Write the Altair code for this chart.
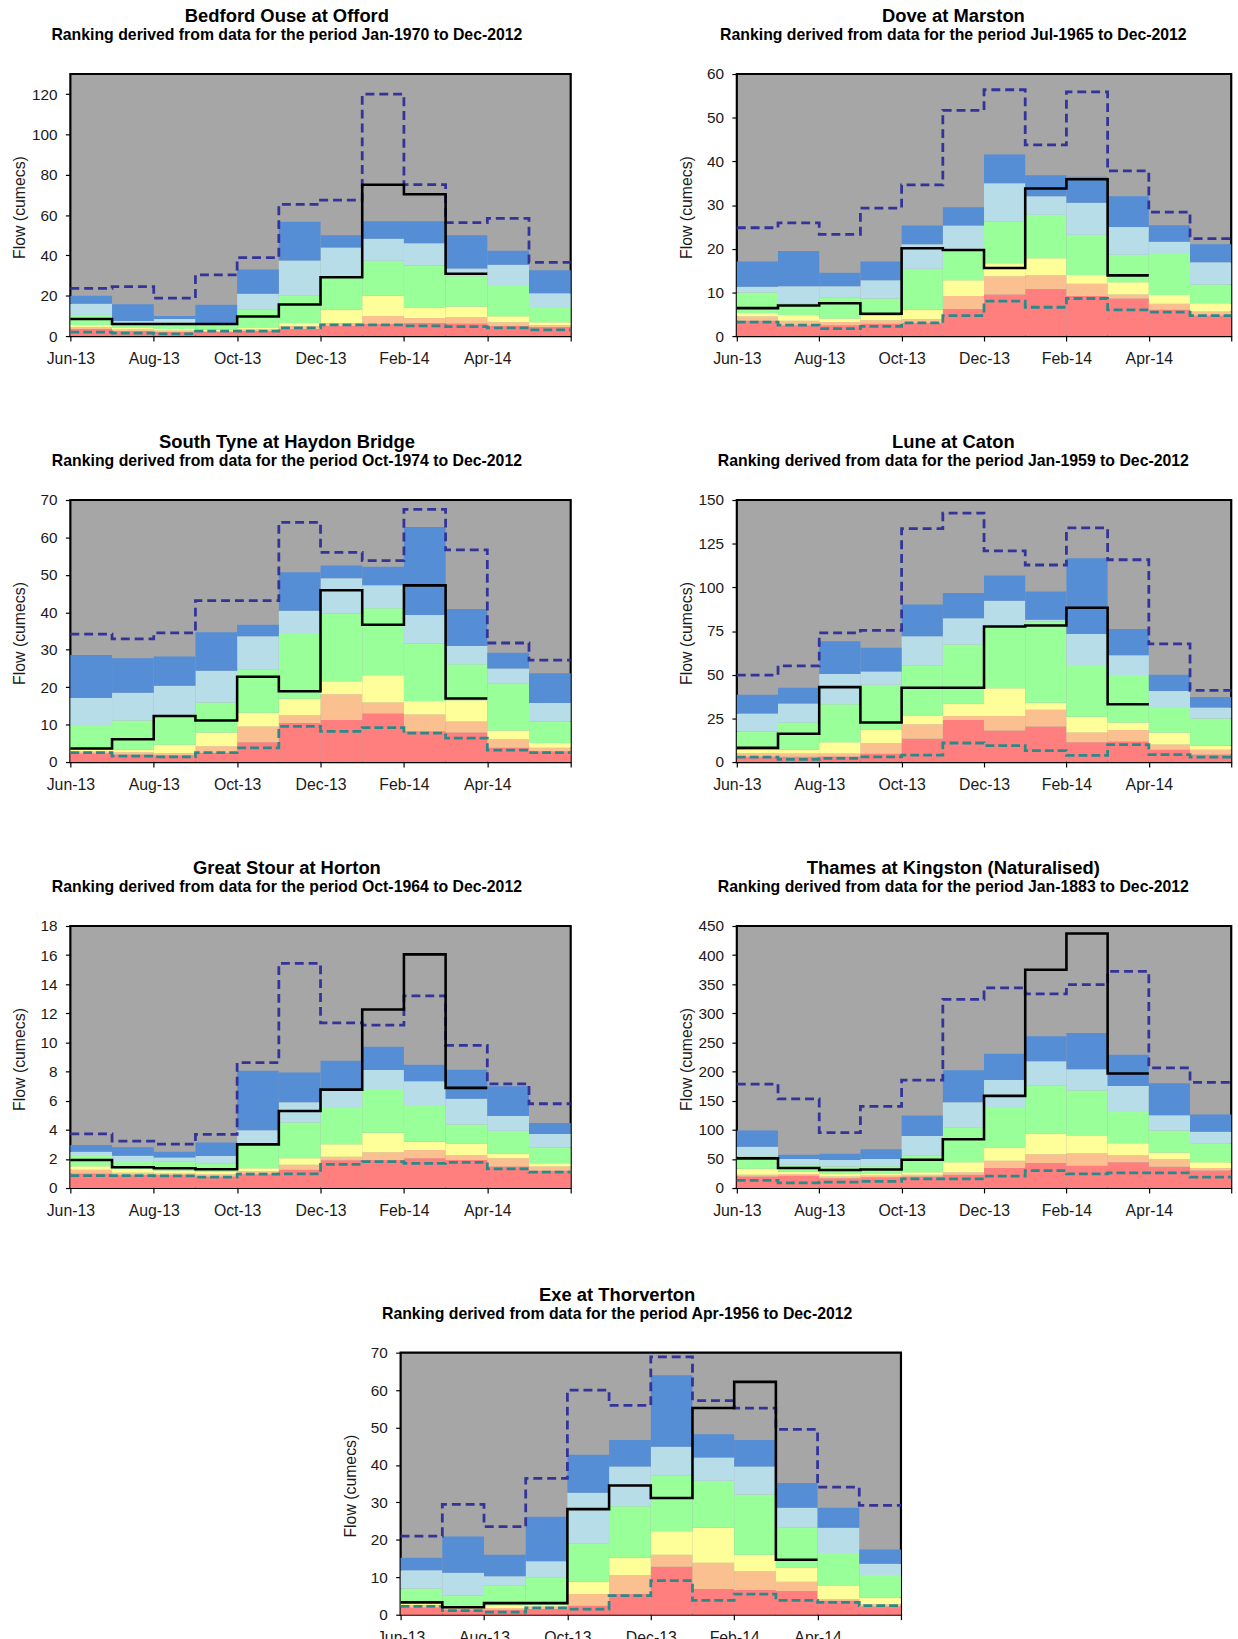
import json
import altair as alt
import pandas as pd

FONT = "Liberation Sans"
MONTHS = 12
tick_labels = ["Jun-13", "Aug-13", "Oct-13", "Dec-13", "Feb-14", "Apr-14", ""]
band_names = ["Exceptionally low", "Notably low", "Below normal", "Normal range",
              "Above normal", "Notably high"]
band_colors = ["#FF7F7F", "#FAC090", "#FFFF99", "#99FF99", "#B7DEE8", "#558ED5"]
MAX_C = "#333399"
MIN_C = "#2A8A8A"

# ---------------- Bedford Ouse at Offord ----------------
bedford_red = [3.5, 2.5, 2.0, 2.0, 2.5, 3.5, 5.0, 6.0, 6.5, 6.2, 5.0, 4.5]
bedford_peach = [4.5, 3.2, 2.8, 2.5, 3.2, 5.0, 6.5, 10.0, 9.0, 9.5, 6.8, 5.5]
bedford_yellow = [5.5, 4.0, 3.5, 3.2, 4.0, 6.5, 13.0, 20.0, 14.2, 14.7, 9.8, 6.9]
bedford_green = [10.5, 6.5, 6.5, 5.5, 13.0, 20.0, 29.0, 37.4, 35.0, 29.7, 25.3, 13.9]
bedford_lblue = [16.0, 7.5, 8.5, 6.5, 21.0, 37.5, 44.0, 48.3, 46.0, 33.5, 35.4, 21.2]
bedford_blue = [20.0, 15.8, 10.0, 15.5, 33.0, 56.7, 50.0, 57.0, 57.0, 50.0, 42.3, 32.7]
bedford_max = [23.7, 24.5, 18.8, 30.4, 38.9, 65.3, 67.4, 120.0, 75.1, 56.3, 58.4, 36.6]
bedford_min = [2.0, 1.5, 1.1, 2.4, 2.4, 4.1, 5.5, 5.5, 5.0, 4.7, 4.1, 3.1]
bedford_flow = [8.5, 6.0, 6.0, 6.0, 9.7, 15.7, 29.2, 75.1, 70.4, 30.9]

# ---------------- Dove at Marston ----------------
dove_red = [3.5, 2.5, 2.5, 2.8, 3.0, 6.2, 9.5, 10.8, 9.2, 8.6, 6.0, 4.7]
dove_peach = [4.5, 3.5, 3.2, 3.6, 3.9, 9.2, 13.7, 13.9, 12.0, 9.5, 7.4, 5.6]
dove_yellow = [5.3, 4.8, 4.0, 4.7, 6.0, 12.8, 16.7, 17.8, 14.0, 12.3, 9.4, 7.5]
dove_green = [10.0, 7.5, 8.8, 8.6, 15.4, 19.6, 26.2, 27.8, 23.2, 18.6, 18.8, 11.8]
dove_lblue = [11.3, 11.4, 11.4, 12.8, 21.0, 25.3, 35.0, 32.0, 30.5, 25.0, 21.6, 16.9]
dove_blue = [17.1, 19.5, 14.5, 17.1, 25.3, 29.5, 41.6, 36.8, 36.5, 32.0, 25.4, 21.0]
dove_max = [24.8, 25.9, 23.3, 29.3, 34.6, 51.7, 56.4, 43.8, 55.9, 37.8, 28.4, 22.3]
dove_min = [3.2, 2.5, 1.7, 2.2, 3.0, 4.7, 8.0, 6.6, 8.6, 6.0, 5.5, 4.7]
dove_flow = [6.4, 7.0, 7.5, 5.1, 20.1, 19.7, 15.6, 33.8, 35.9, 13.9]

# ---------------- South Tyne at Haydon Bridge ----------------
tyne_red = [2.3, 2.0, 1.8, 2.5, 5.3, 10.4, 11.2, 13.0, 8.2, 7.9, 3.8, 2.9]
tyne_peach = [2.8, 2.6, 2.4, 4.2, 9.5, 12.5, 18.1, 15.9, 12.7, 10.8, 6.1, 3.8]
tyne_yellow = [3.3, 3.3, 4.6, 7.9, 13.2, 16.9, 21.6, 23.2, 16.3, 16.5, 8.4, 5.1]
tyne_green = [9.6, 11.1, 12.5, 15.9, 24.8, 34.5, 39.7, 41.1, 31.7, 26.1, 20.9, 10.8]
tyne_lblue = [17.1, 18.5, 20.4, 24.4, 33.6, 40.4, 49.1, 47.2, 39.3, 31.0, 25.0, 15.8]
tyne_blue = [28.6, 27.7, 28.2, 34.7, 36.7, 50.7, 52.5, 52.2, 62.8, 40.9, 29.2, 23.7]
tyne_max = [34.2, 32.9, 34.5, 43.1, 43.1, 64.0, 56.0, 53.8, 67.5, 56.7, 31.8, 27.2]
tyne_min = [2.5, 1.6, 1.4, 2.5, 3.8, 9.5, 8.2, 9.2, 7.7, 6.4, 3.2, 2.5]
tyne_flow = [3.6, 6.1, 12.3, 11.1, 22.8, 18.9, 45.9, 36.7, 47.2, 17.0]

# ---------------- Lune at Caton ----------------
lune_red = [3.0, 3.0, 3.2, 4.7, 13.3, 24.1, 18.0, 20.3, 11.3, 11.8, 7.1, 4.3]
lune_peach = [5.0, 4.9, 4.9, 10.9, 21.6, 26.3, 26.3, 30.0, 16.9, 18.4, 10.0, 7.1]
lune_yellow = [7.0, 7.1, 11.3, 18.4, 26.3, 33.5, 42.3, 34.0, 25.9, 22.6, 16.9, 9.4]
lune_green = [17.5, 22.6, 33.1, 44.2, 55.1, 67.3, 78.5, 80.5, 55.6, 49.8, 31.0, 25.0]
lune_lblue = [27.8, 33.5, 50.4, 51.9, 72.0, 82.3, 92.3, 81.4, 73.3, 61.1, 40.6, 31.2]
lune_blue = [38.5, 42.5, 69.2, 65.4, 90.2, 96.8, 106.8, 97.7, 116.7, 76.1, 50.0, 37.2]
lune_max = [49.8, 55.1, 73.9, 75.4, 133.6, 142.5, 120.9, 112.8, 134.0, 115.8, 67.7, 41.0]
lune_min = [2.8, 1.5, 2.1, 3.0, 3.9, 10.9, 9.4, 6.6, 3.8, 10.0, 4.3, 2.8]
lune_flow = [8.1, 16.2, 42.9, 22.6, 42.5, 42.5, 77.6, 78.2, 88.3, 33.1]

# ---------------- Great Stour at Horton ----------------
stour_red = [1.0, 0.9, 0.9, 0.8, 0.95, 1.25, 1.9, 1.93, 2.04, 1.93, 1.48, 1.18]
stour_peach = [1.25, 1.05, 1.0, 0.95, 1.15, 1.6, 2.15, 2.45, 2.61, 2.27, 2.04, 1.48]
stour_yellow = [1.5, 1.3, 1.2, 1.1, 1.36, 2.04, 3.0, 3.8, 3.18, 3.06, 2.38, 1.7]
stour_green = [2.2, 1.85, 1.8, 1.7, 3.1, 4.5, 5.5, 6.8, 5.63, 4.36, 3.93, 2.79]
stour_lblue = [2.5, 2.22, 2.1, 2.2, 3.97, 5.9, 6.7, 8.1, 7.33, 6.13, 4.95, 3.72]
stour_blue = [2.95, 2.8, 2.5, 3.13, 8.05, 7.94, 8.74, 9.7, 8.47, 8.13, 6.99, 4.47]
stour_max = [3.72, 3.22, 3.02, 3.68, 8.62, 15.43, 11.35, 11.19, 13.2, 9.8, 7.15, 5.79]
stour_min = [0.86, 0.86, 0.84, 0.75, 0.95, 0.98, 1.63, 1.82, 1.7, 1.77, 1.32, 1.09]
stour_flow = [1.93, 1.43, 1.36, 1.29, 3.0, 5.29, 6.76, 12.26, 16.05, 6.88]

# ---------------- Thames at Kingston (Naturalised) ----------------
thames_red = [20, 21, 17, 18.7, 19.8, 22.6, 34.5, 43, 38.4, 44.1, 36.7, 30]
thames_peach = [23, 24, 20, 21.5, 22.6, 27.1, 46.9, 58.2, 59.9, 56.5, 49.7, 34.5]
thames_yellow = [33, 28, 24, 24.3, 27.1, 44.1, 69.5, 93.8, 89.3, 76.9, 61, 44.1]
thames_green = [54, 40, 37, 37.3, 55.4, 103.4, 137.4, 175.8, 167.3, 130.6, 98.9, 76.9]
thames_lblue = [71, 50, 48, 49.7, 89.3, 147.5, 185.4, 217.6, 204, 175.2, 124.9, 96.7]
thames_blue = [99, 57, 59, 66.7, 124.4, 202.4, 230.6, 260.6, 266.3, 229, 179.8, 126.1]
thames_max = [178.6, 153.2, 95, 140.2, 185.4, 323.9, 343.7, 333.5, 349.4, 372, 206.3, 181.5]
thames_min = [13, 9, 10.2, 11.3, 15.8, 15.8, 20.4, 30, 24.3, 26, 26, 18.7]
thames_flow = [50.9, 34.5, 31.1, 31.7, 48.6, 83.7, 158.3, 374.8, 437, 196.7]

# ---------------- Exe at Thorverton ----------------
exe_red = [1.9, 1.3, 1.3, 1.5, 2.4, 5.5, 12.8, 6.9, 6.6, 6.3, 3.7, 2.2]
exe_peach = [2.6, 1.7, 1.8, 2.2, 5.5, 10.6, 16.0, 13.9, 11.6, 8.8, 4.2, 2.8]
exe_yellow = [3.1, 2.2, 2.5, 2.6, 8.8, 15.2, 22.3, 23.2, 16.0, 12.6, 7.7, 4.6]
exe_green = [7.0, 5.1, 7.9, 9.9, 19.1, 29.0, 37.1, 35.8, 32.1, 23.3, 16.5, 10.6]
exe_lblue = [11.9, 11.2, 10.3, 14.3, 32.6, 39.6, 44.9, 42.0, 39.6, 28.6, 23.2, 13.6]
exe_blue = [15.2, 20.9, 16.0, 26.2, 42.7, 46.7, 64.0, 48.2, 46.7, 35.2, 28.6, 17.4]
exe_max = [21.0, 29.5, 23.5, 36.4, 60.0, 55.9, 68.9, 57.2, 55.2, 49.5, 34.1, 29.2]
exe_min = [2.2, 1.1, 0.7, 1.8, 1.5, 5.1, 9.1, 3.8, 5.5, 3.8, 3.3, 2.4]
exe_flow = [3.3, 2.0, 3.1, 3.1, 28.2, 34.5, 31.2, 55.2, 62.2, 14.7]

W_LEFT, W_RIGHT, H = 506, 500, 265
label_expr = json.dumps(tick_labels) + "[round(datum.value / 2)]"


def step_df(vals):
    return pd.DataFrame({"m": list(range(len(vals))) + [len(vals)],
                         "v": list(vals) + [vals[-1]]})


def panel(title, period, ymax, ystep, tops, mx, mn, flow, width, dx):
    rows = []
    for b, top in enumerate(tops):
        for i in range(MONTHS):
            lo = 0 if b == 0 else tops[b - 1][i]
            rows.append({"m": i, "m2": i + 1, "band": band_names[b], "lo": lo, "hi": top[i]})
    bands = pd.DataFrame(rows)
    xs = alt.Scale(domain=[0, MONTHS], nice=False, zero=False)
    ys = alt.Scale(domain=[0, ymax], nice=False, zero=True)
    yvals = []
    v = 0
    while v <= ymax + 1e-9:
        yvals.append(v)
        v += ystep
    top_label = abs(yvals[-1] - ymax) < 1e-9

    def xaxis():
        return alt.Axis(values=list(range(0, MONTHS + 1, 2)), labelExpr=label_expr, title=None,
                        tickSize=5, labelPadding=10, grid=False, domain=False,
                        labelFlush=False, labelOverlap=False, labelFontSize=16)

    def yaxis():
        return alt.Axis(values=yvals, title="Flow (cumecs)", titleX=-51, titleY=H / 2 + 2,
                        titleBaseline="middle", titleAngle=-90, tickSize=5, labelPadding=8.5,
                        grid=False, domain=False, labelFlush=False, labelOverlap=False,
                        labelFontSize=15.5)

    rect = alt.Chart(bands).mark_rect(strokeWidth=0).encode(
        x=alt.X("m:Q", scale=xs, axis=xaxis()),
        x2="m2:Q",
        y=alt.Y("lo:Q", scale=ys, axis=yaxis()),
        y2="hi:Q",
        color=alt.Color("band:N", scale=alt.Scale(domain=band_names, range=band_colors), legend=None),
    )

    def line(vals, color, dash, lw):
        kw = dict(interpolate="step-after", color=color, strokeWidth=lw)
        if dash:
            kw["strokeDash"] = dash
        return alt.Chart(step_df(vals)).mark_line(**kw).encode(
            x=alt.X("m:Q", scale=xs, axis=xaxis()),
            y=alt.Y("v:Q", scale=ys, axis=yaxis()),
        )

    layers = alt.layer(
        rect,
        line(mx, MAX_C, [9, 5], 2.8),
        line(mn, MIN_C, [9, 4], 2.8),
        line(flow, "black", None, 2.6),
    )
    return layers.properties(
        width=width, height=H,
        title=alt.TitleParams(
            text=title, subtitle=period, font=FONT, fontSize=18.6, fontWeight="bold", color="black",
            subtitleFont=FONT, subtitleFontSize=16, subtitleFontWeight="bold", subtitleColor="black",
            anchor="middle", frame="group", dx=dx, offset=24 if top_label else 31.5,
            subtitlePadding=1.7,
        ),
    )


p1 = panel("Bedford Ouse at Offord", "Ranking derived from data for the period Jan-1970 to Dec-2012",
           130, 20, [bedford_red, bedford_peach, bedford_yellow, bedford_green, bedford_lblue, bedford_blue],
           bedford_max, bedford_min, bedford_flow, W_LEFT, -34)
p2 = panel("Dove at Marston", "Ranking derived from data for the period Jul-1965 to Dec-2012",
           60, 10, [dove_red, dove_peach, dove_yellow, dove_green, dove_lblue, dove_blue],
           dove_max, dove_min, dove_flow, W_RIGHT, -31)
p3 = panel("South Tyne at Haydon Bridge", "Ranking derived from data for the period Oct-1974 to Dec-2012",
           70, 10, [tyne_red, tyne_peach, tyne_yellow, tyne_green, tyne_lblue, tyne_blue],
           tyne_max, tyne_min, tyne_flow, W_LEFT, -34)
p4 = panel("Lune at Caton", "Ranking derived from data for the period Jan-1959 to Dec-2012",
           150, 25, [lune_red, lune_peach, lune_yellow, lune_green, lune_lblue, lune_blue],
           lune_max, lune_min, lune_flow, W_RIGHT, -31)
p5 = panel("Great Stour at Horton", "Ranking derived from data for the period Oct-1964 to Dec-2012",
           18, 2, [stour_red, stour_peach, stour_yellow, stour_green, stour_lblue, stour_blue],
           stour_max, stour_min, stour_flow, W_LEFT, -34)
p6 = panel("Thames at Kingston (Naturalised)", "Ranking derived from data for the period Jan-1883 to Dec-2012",
           450, 50, [thames_red, thames_peach, thames_yellow, thames_green, thames_lblue, thames_blue],
           thames_max, thames_min, thames_flow, W_RIGHT, -31)
p7 = panel("Exe at Thorverton", "Ranking derived from data for the period Apr-1956 to Dec-2012",
           70, 10, [exe_red, exe_peach, exe_yellow, exe_green, exe_lblue, exe_blue],
           exe_max, exe_min, exe_flow, W_LEFT, -34)

HS = 100
grid = alt.vconcat(
    alt.hconcat(p1, p2, spacing=HS),
    alt.hconcat(p3, p4, spacing=HS),
    alt.hconcat(p5, p6, spacing=HS),
    spacing=63.8,
)
chart = alt.vconcat(grid, p7, spacing=65.1, center=True).properties(
    padding={"left": 11, "top": -3.5, "right": 0, "bottom": 0},
    background="white",
).configure_view(
    fill="#A6A6A6", stroke="black", strokeWidth=2.2,
).configure_axis(
    labelFont=FONT, labelFontSize=16, labelColor="#1a1a1a",
    titleFont=FONT, titleFontSize=16, titleColor="#1a1a1a", titleFontWeight="normal",
    tickColor="black", tickWidth=1.2,
)

chart.save("out.html", embed_options={"renderer": "svg", "actions": False})
